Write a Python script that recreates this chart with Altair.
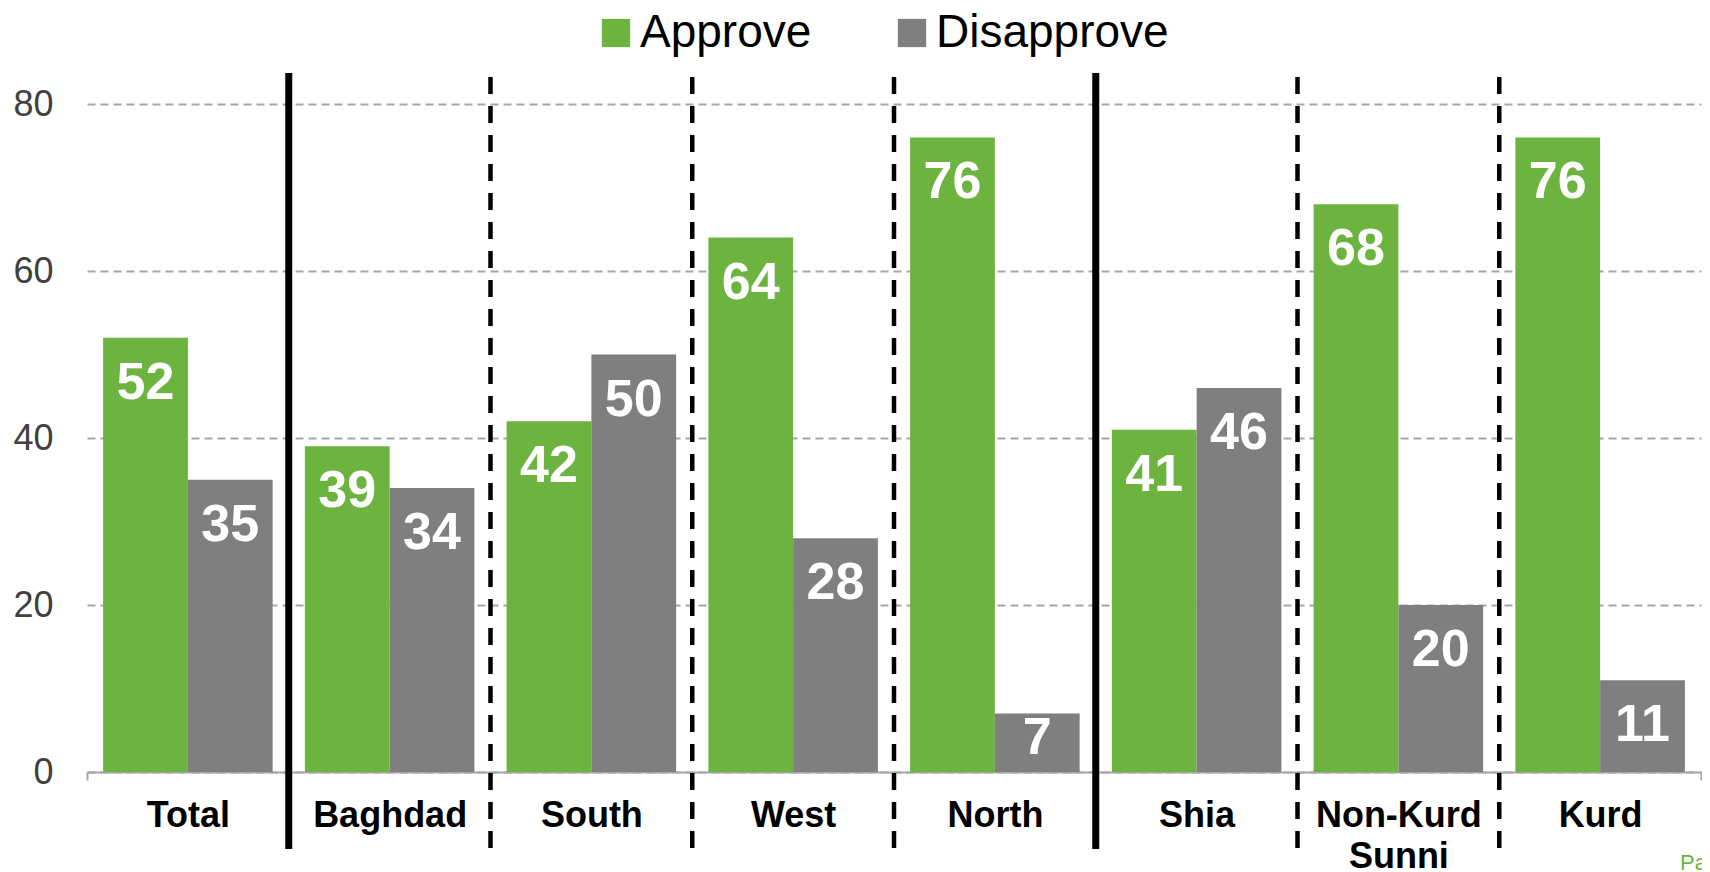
import altair as alt
import pandas as pd

categories = ["Total", "Baghdad", "South", "West", "North", "Shia", "Non-Kurd Sunni", "Kurd"]
series = ["Approve", "Disapprove"]
approve = [52, 39, 42, 64, 76, 41, 68, 76]
disapprove = [35, 34, 50, 28, 7, 46, 20, 11]
solid_separators = ["Baghdad", "Shia"]
dashed_separators = ["South", "West", "North", "Non-Kurd Sunni", "Kurd"]
y_ticks = [0, 20, 40, 60, 80]
footer = ["Pa"]

colors = ["#6DB33F", "#7F7F7F"]
FONT = "Liberation Sans"

rows = []
for c, a, d in zip(categories, approve, disapprove):
    rows.append({"cat": c, "series": "Approve", "value": a})
    rows.append({"cat": c, "series": "Disapprove", "value": d})
df = pd.DataFrame(rows)

W, H = 1614, 668

xscale = alt.Scale(domain=categories, paddingInner=0, paddingOuter=0)
xoff = alt.XOffset("series:N", scale=alt.Scale(domain=series, paddingInner=0, paddingOuter=0.19))
yscale = alt.Scale(domain=[0, 80], nice=False, zero=True)

x_axis = alt.Axis(
    title=None, labelAngle=0, labelFont=FONT, labelFontSize=36, labelFontWeight="bold",
    labelColor="black", labelExpr="split(datum.label, ' ')", labelLineHeight=41,
    labelPadding=18, labelBaseline="top", labelLimit=500, tickBand="extent", tickSize=8,
    tickColor="#a6a6a6", tickWidth=2, domainColor="#a6a6a6", domainWidth=2, grid=False,
)
y_axis = alt.Axis(
    title=None, values=y_ticks, labelFont=FONT, labelFontSize=36, labelColor="#404040",
    ticks=False, tickSize=0, domain=False, labelPadding=34, grid=True,
    gridDash=[8, 5], gridColor="#a6a6a6", gridWidth=2,
)

base = alt.Chart(df)

bars = base.mark_bar().encode(
    x=alt.X("cat:N", scale=xscale, axis=x_axis, sort=categories),
    xOffset=xoff,
    y=alt.Y("value:Q", scale=yscale, axis=y_axis),
    color=alt.Color(
        "series:N",
        scale=alt.Scale(domain=series, range=colors),
        legend=alt.Legend(
            title=None, orient="none", legendX=506, legendY=-94, direction="horizontal",
            symbolType="square", symbolSize=800, symbolStrokeWidth=0, symbolOpacity=1,
            labelFont=FONT, labelFontSize=46, labelColor="black", labelOffset=1,
            labelLimit=600, columnPadding=77,
        ),
    ),
)

labels = base.transform_calculate(
    labely="max(datum.value, 9.5)"
).mark_text(
    color="white", font=FONT, fontSize=52, fontWeight="bold", baseline="middle", dy=45
).encode(
    x=alt.X("cat:N", scale=xscale, sort=categories),
    xOffset=xoff,
    y=alt.Y("labely:Q", scale=yscale),
    text=alt.Text("value:Q"),
)

solid = alt.Chart(pd.DataFrame({"cat": solid_separators})).mark_rule(
    color="black", strokeWidth=7, clip=False
).encode(
    x=alt.X("cat:N", scale=xscale, bandPosition=0, sort=categories),
    y=alt.value(-31),
    y2=alt.value(H + 77),
)

dashed = alt.Chart(pd.DataFrame({"cat": dashed_separators})).mark_rule(
    color="black", strokeWidth=4.5, strokeDash=[17, 12], clip=False
).encode(
    x=alt.X("cat:N", scale=xscale, bandPosition=0, sort=categories),
    y=alt.value(-27),
    y2=alt.value(H + 78),
)

foot = alt.Chart(pd.DataFrame({"t": footer})).mark_text(
    color="#6DB33F", font=FONT, fontSize=22, align="left", baseline="alphabetic"
).encode(
    text="t:N",
    x=alt.value(1593),
    y=alt.value(H + 98),
)

chart = alt.layer(bars, labels, solid, dashed, foot).properties(
    width=W, height=H,
    autosize=alt.AutoSizeParams(type="none"),
    padding={"left": 79, "top": 96, "right": 1, "bottom": 100},
).configure_view(stroke=None)

chart.save("out.html", embed_options={"renderer": "svg", "actions": False})
